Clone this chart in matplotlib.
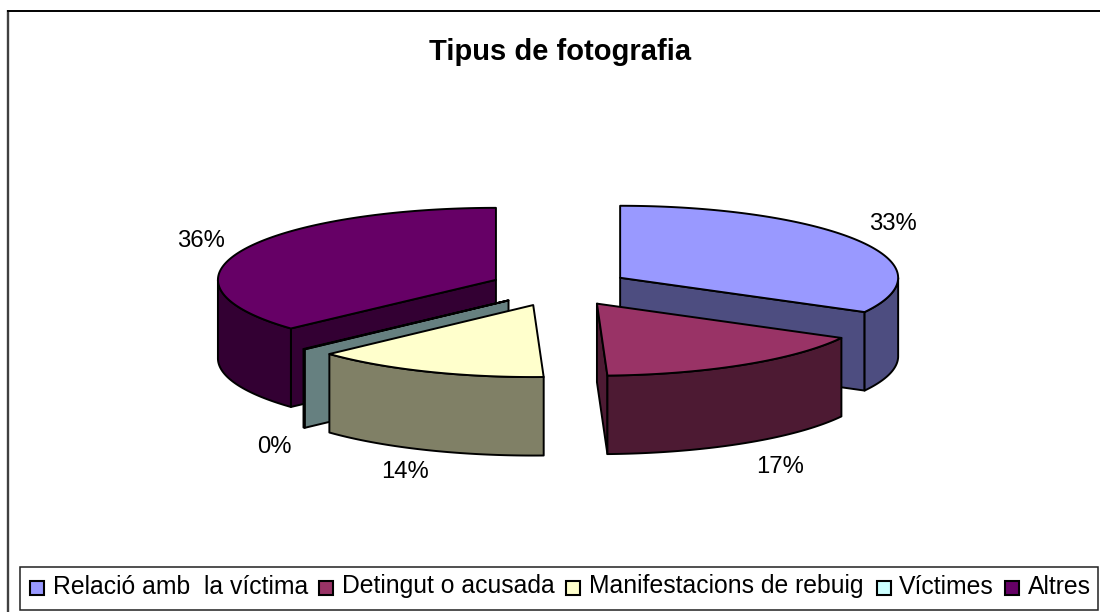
import numpy as np
import matplotlib.pyplot as plt
from matplotlib.colors import to_rgb
from matplotlib.patches import Polygon, Rectangle

plt.rcParams['font.family'] = ['Liberation Sans', 'DejaVu Sans']

TITLE = "Tipus de fotografia"
categories = ["Relació amb  la víctima", "Detingut o acusada",
              "Manifestacions de rebuig", "Víctimes", "Altres"]
# slice sizes as measured on the picture (the 3D view skews them a bit)
values = [32.9, 16.5, 13.7, 0.1, 36.8]
pct_labels = ["33%", "17%", "14%", "0%", "36%"]
colors = ["#9999FF", "#993366", "#FFFFCC", "#CCFFFF", "#660066"]

# pie geometry, in pixels
CX, CY = 560, 287.5
RX, RY = 278, 72
DEPTH = 78.5
EXPLODE_X, EXPLODE_Y = 70, 19
EDGE = 1.4

label_pos = [(893, 224), (780, 467), (405, 472), (274, 447), (201, 241)]
swatch_x = [30, 319, 566, 877, 1005]
legend_text_x = [53, 342, 589, 899, 1028]
draw_order = [0, 4, 3, 2, 1]


def ring(angles, ox, oy, dy=0.0):
    t = np.radians(angles)
    return np.column_stack([ox + RX * np.sin(t), oy - RY * np.cos(t) + dy])


def add_poly(ax, pts, color):
    ax.add_patch(Polygon(pts, closed=True, facecolor=color, edgecolor="black",
                         linewidth=EDGE, joinstyle="round"))


def draw_slice(ax, start, end, color):
    mid = np.radians((start + end) / 2)
    ox = CX + EXPLODE_X * np.sin(mid)
    oy = CY - EXPLODE_Y * np.cos(mid)
    shade = tuple(c * 0.5 for c in to_rgb(color))

    # cut faces that look at the viewer
    for ang, side in ((start, -1), (end, 1)):
        if side * np.sin(np.radians(ang)) > 1e-3:
            p = ring([ang], ox, oy)[0]
            add_poly(ax, [(ox, oy), p, (p[0], p[1] + DEPTH), (ox, oy + DEPTH)], shade)

    # outer wall, only the front half of the rim
    lo, hi = max(start, 90), min(end, 270)
    if hi > lo:
        arc = np.linspace(lo, hi, 80)
        add_poly(ax, np.vstack([ring(arc, ox, oy), ring(arc[::-1], ox, oy, DEPTH)]), shade)

    arc = np.linspace(start, end, 120)
    add_poly(ax, np.vstack([[(ox, oy)], ring(arc, ox, oy)]), color)


fig = plt.figure(figsize=(11, 6.12), dpi=100)
ax = fig.add_axes([0, 0, 1, 1])
ax.set_xlim(0, 1100)
ax.set_ylim(612, 0)
ax.axis("off")

# chart frame
ax.plot([7.5, 7.5], [10, 612], color="#404040", linewidth=1.7, solid_capstyle="butt")
ax.plot([7, 1100], [10.5, 10.5], color="black", linewidth=1.4, solid_capstyle="butt")

ax.text(560, 60, TITLE, fontsize=21, fontweight="bold", ha="center", va="baseline")

edges = np.cumsum([0] + values) / np.sum(values) * 360
for i in draw_order:
    draw_slice(ax, edges[i], edges[i + 1], colors[i])

for (x, y), txt in zip(label_pos, pct_labels):
    ax.text(x, y, txt, fontsize=17.2, ha="center", va="center")

# legend box
ax.add_patch(Rectangle((19.5, 566.5), 1078.5, 43.5, facecolor="white",
                       edgecolor="#202020", linewidth=1.1))
for sx, tx, name, col in zip(swatch_x, legend_text_x, categories, colors):
    ax.add_patch(Rectangle((sx, 580.5), 14, 14, facecolor=col, edgecolor="black",
                           linewidth=1.5))
    ax.text(tx, 593.5, name, fontsize=17.8, ha="left", va="baseline")

fig.savefig("out.png", dpi=100)
